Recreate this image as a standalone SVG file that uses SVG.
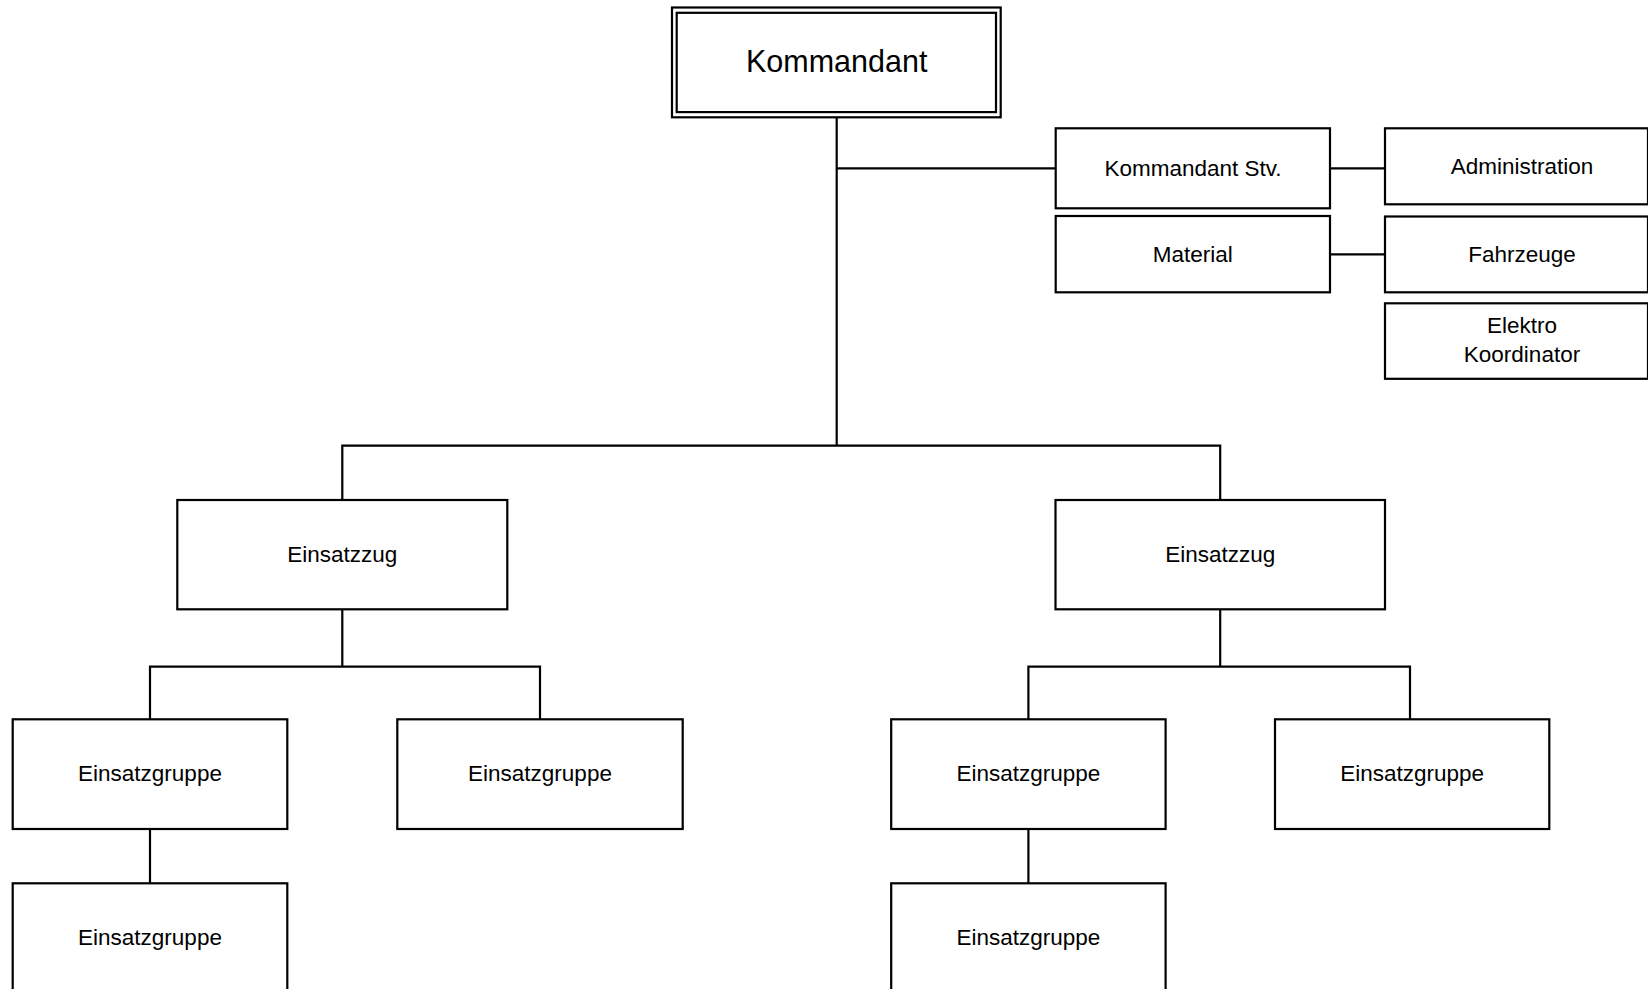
<svg xmlns="http://www.w3.org/2000/svg" width="1648" height="989" viewBox="0 0 1648 989">
<style>
.box{fill:#fff;stroke:#000;stroke-width:2.2}
.ln{fill:none;stroke:#000;stroke-width:2.2}
.t{font-family:"Liberation Sans",Arial,sans-serif;font-size:22.5px;fill:#000;text-anchor:middle}
.big{font-size:30.5px}
</style>
<rect width="1648" height="989" fill="#fff"/>
<g id="connectors">
<path class="ln" d="M836.7,117 V445.7"/>
<path class="ln" d="M836.7,168.3 H1055.7"/>
<path class="ln" d="M1330,168.3 H1385"/>
<path class="ln" d="M1330,254.3 H1385"/>
<path class="ln" d="M342.3,500 V445.7 H1220.2 V500"/>
<path class="ln" d="M342.3,609.3 V666.7"/>
<path class="ln" d="M150,719.3 V666.7 H540 V719.3"/>
<path class="ln" d="M1220.2,609.3 V666.7"/>
<path class="ln" d="M1028.4,719.3 V666.7 H1410 V719.3"/>
<path class="ln" d="M150,829 V883.3"/>
<path class="ln" d="M1028.4,829 V883.3"/>
</g>
<g id="kommandant">
<rect class="box" x="672" y="7.5" width="328.7" height="109.8"/>
<rect class="box" x="676.7" y="12.8" width="319.3" height="99.3"/>
<text class="t big" x="836.7" y="72">Kommandant</text>
</g>
<g id="kommandant-stv">
<rect class="box" x="1055.7" y="128.3" width="274.3" height="80"/>
<text class="t" x="1193" y="175.5">Kommandant Stv.</text>
</g>
<g id="administration">
<rect class="box" x="1385" y="128.3" width="263" height="76"/>
<text class="t" x="1522" y="174.3">Administration</text>
</g>
<g id="material">
<rect class="box" x="1055.7" y="216" width="274.3" height="76.3"/>
<text class="t" x="1192.8" y="261.5">Material</text>
</g>
<g id="fahrzeuge">
<rect class="box" x="1385" y="216.5" width="263" height="75.8"/>
<text class="t" x="1522" y="261.5">Fahrzeuge</text>
</g>
<g id="elektro">
<rect class="box" x="1385" y="303.3" width="263" height="75.5"/>
<text class="t" x="1522" y="333.3">Elektro</text>
<text class="t" x="1522" y="361.8">Koordinator</text>
</g>
<g id="einsatzzug-1">
<rect class="box" x="177.3" y="500" width="330" height="109.3"/>
<text class="t" x="342.3" y="562.3">Einsatzzug</text>
</g>
<g id="einsatzzug-2">
<rect class="box" x="1055.5" y="500" width="329.5" height="109.3"/>
<text class="t" x="1220.2" y="562.3">Einsatzzug</text>
</g>
<g id="einsatzgruppe-1">
<rect class="box" x="12.7" y="719.3" width="274.6" height="109.7"/>
<text class="t" x="150" y="781">Einsatzgruppe</text>
</g>
<g id="einsatzgruppe-2">
<rect class="box" x="397.3" y="719.3" width="285.4" height="109.7"/>
<text class="t" x="540" y="781">Einsatzgruppe</text>
</g>
<g id="einsatzgruppe-3">
<rect class="box" x="12.7" y="883.3" width="274.6" height="109.7"/>
<text class="t" x="150" y="945">Einsatzgruppe</text>
</g>
<g id="einsatzgruppe-4">
<rect class="box" x="891.2" y="719.3" width="274.4" height="109.7"/>
<text class="t" x="1028.4" y="781">Einsatzgruppe</text>
</g>
<g id="einsatzgruppe-5">
<rect class="box" x="1275" y="719.3" width="274.3" height="109.7"/>
<text class="t" x="1412.2" y="781">Einsatzgruppe</text>
</g>
<g id="einsatzgruppe-6">
<rect class="box" x="891.2" y="883.3" width="274.4" height="109.7"/>
<text class="t" x="1028.4" y="945">Einsatzgruppe</text>
</g>
</svg>
